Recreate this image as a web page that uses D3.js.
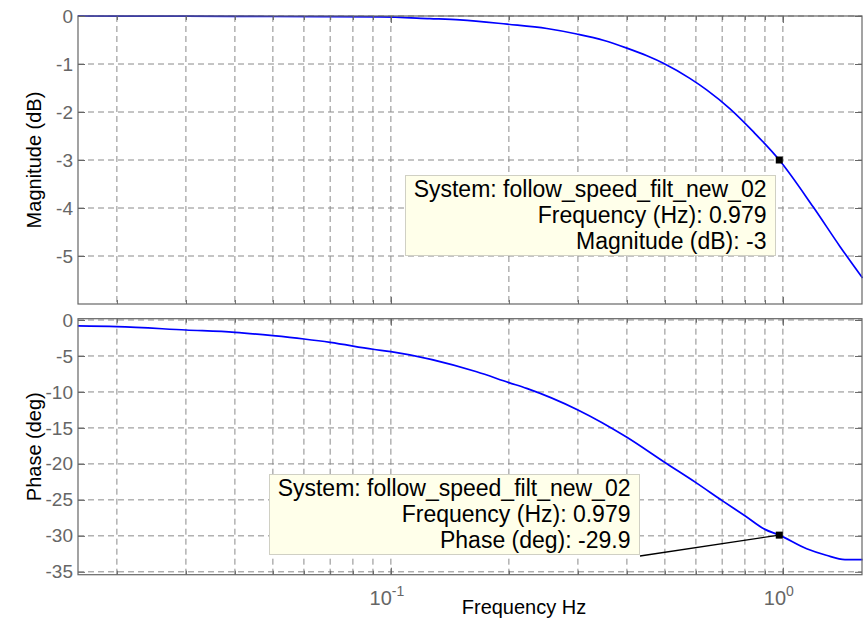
<!doctype html>
<html lang="en">
<head>
<meta charset="utf-8" />
<title>Bode diagram</title>
<script src="https://d3js.org/d3.v7.min.js"></script>
<style>
  body { margin: 0; background: #fff; }
  svg { display: block; font-family: "Liberation Sans", Arial, sans-serif; }
</style>
</head>
<body>
<div id="chart"></div>
<script>
// values
const magFreq = [0.0159, 0.02, 0.03, 0.05, 0.07, 0.0938, 0.1258, 0.15, 0.198, 0.25, 0.298, 0.35, 0.40, 0.45, 0.497, 0.579, 0.639, 0.732, 0.838, 0.979, 1.193, 1.398, 1.597];
const magDb = [0, -0.001, -0.004, -0.01, -0.015, -0.02, -0.055, -0.08, -0.17, -0.26, -0.375, -0.51, -0.67, -0.83, -0.99, -1.30, -1.54, -1.93, -2.40, -3.0, -3.97, -4.8, -5.46];

const phaseFreq = [0.0159, 0.02, 0.03, 0.04, 0.05, 0.06, 0.07, 0.09, 0.1, 0.1655, 0.2, 0.222, 0.3, 0.4, 0.5, 0.6, 0.7, 0.8, 0.9, 0.979, 1.15, 1.29, 1.44, 1.597];
const phaseDeg = [-0.83, -0.93, -1.39, -1.71, -2.18, -2.64, -3.1, -4.07, -4.4, -7.2, -8.7, -9.5, -12.5, -16.3, -19.8, -22.6, -25.1, -27.2, -29.1, -29.9, -31.8, -32.7, -33.3, -33.3];

const magTicks = [0, -1, -2, -3, -4, -5];
const phaseTicks = [0, -5, -10, -15, -20, -25, -30, -35];
const decadeTicks = [0.1, 1];
const decadeExp = ["-1", "0"];

const tipSystem = "follow_speed_filt_new_02";
const tipFreq = 0.979;
const tipMag = -3;
const tipPhase = -29.9;

const W = 863, H = 620;
const left = 78, right = 862;
const top1 = 16, bottom1 = 304;
const top2 = 318.7, bottom2 = 574.7;

const svg = d3.select("#chart").append("svg")
  .attr("width", W).attr("height", H);

// frequency axis, 0.1 .. 10 rad/s shown in Hz
const x = d3.scaleLog()
  .domain([0.1 / (2 * Math.PI), 10 / (2 * Math.PI)])
  .range([left, right]);

// log grid: 2..9 of every decade inside the range
let minor = [];
[0.01, 0.1, 1].forEach(d => {
  for (let k = 1; k <= 9; k++) {
    const v = k * d;
    if (v >= x.domain()[0] && v <= x.domain()[1]) minor.push(v);
  }
});

const yMag = d3.scaleLinear().domain([-6, 0]).range([bottom1, top1]);
const yPh = d3.scaleLinear().domain([-35.4, 0.18]).range([bottom2, top2]);

const gridColor = "#8a8a8a";
const axisColor = "#666";
const tickFont = "19px";
const labelFont = "20px";

function panel(y, ticks, top, bottom) {
  const g = svg.append("g");

  g.append("g").selectAll("line").data(minor).join("line")
    .attr("x1", d => x(d)).attr("x2", d => x(d))
    .attr("y1", top).attr("y2", bottom)
    .attr("stroke", gridColor).attr("stroke-dasharray", "6,4");

  g.append("g").selectAll("line").data(ticks).join("line")
    .attr("x1", left).attr("x2", right)
    .attr("y1", d => y(d)).attr("y2", d => y(d))
    .attr("stroke", gridColor).attr("stroke-dasharray", "6,4");

  return g;
}

function frame(g, y, ticks, top, bottom) {
  const style = sel => {
    sel.select(".domain").remove();
    sel.selectAll(".tick line").attr("stroke", axisColor);
  };
  // y ticks left and right (plain hyphen for the minus sign)
  g.append("g").attr("transform", `translate(${left},0)`)
    .call(d3.axisLeft(y).tickValues(ticks).tickSize(-7).tickPadding(5).tickFormat(d => String(d)))
    .call(style)
    .selectAll("text").attr("fill", axisColor).style("font-size", tickFont)
    .style("font-family", "Liberation Sans, Arial, sans-serif");
  g.append("g").attr("transform", `translate(${right},0)`)
    .call(d3.axisRight(y).tickValues(ticks).tickSize(-7).tickFormat(""))
    .call(style);
  // x ticks bottom and top, major longer than minor
  [[bottom, d3.axisBottom], [top, d3.axisTop]].forEach(([yy, ax]) => {
    g.append("g").attr("transform", `translate(0,${yy})`)
      .call(ax(x).tickValues(minor).tickSize(-4).tickFormat(""))
      .call(style);
    g.append("g").attr("transform", `translate(0,${yy})`)
      .call(ax(x).tickValues(decadeTicks).tickSize(-7).tickFormat(""))
      .call(style);
  });
  g.append("rect")
    .attr("x", left).attr("y", top)
    .attr("width", right - left).attr("height", bottom - top)
    .attr("fill", "none").attr("stroke", axisColor).attr("stroke-width", 1.2);
}

function curve(g, fx, vy, y) {
  const pts = fx.map((f, i) => [f, vy[i]]);
  g.append("path")
    .datum(pts)
    .attr("fill", "none")
    .attr("stroke", "#0000ff")
    .attr("stroke-width", 1.7)
    .attr("d", d3.line().x(d => x(d[0])).y(d => y(d[1])).curve(d3.curveMonotoneX));
}

// magnitude
const g1 = panel(yMag, magTicks, top1, bottom1);
curve(g1, magFreq, magDb, yMag);
frame(g1, yMag, magTicks, top1, bottom1);

// phase
const g2 = panel(yPh, phaseTicks, top2, bottom2);
curve(g2, phaseFreq, phaseDeg, yPh);
frame(g2, yPh, phaseTicks, top2, bottom2);

// decade labels 10^n
const lab = svg.append("g").selectAll("text").data(decadeTicks).join("text")
  .attr("x", d => x(d) - 4)
  .attr("y", 605)
  .attr("text-anchor", "middle")
  .attr("fill", axisColor)
  .style("font-size", "20px");
lab.append("tspan").text("10");
lab.append("tspan").attr("dy", -9).style("font-size", "14px").text((d, i) => decadeExp[i]);

// axis titles
svg.append("text")
  .attr("transform", `translate(41,${(top1 + bottom1) / 2}) rotate(-90)`)
  .attr("text-anchor", "middle").style("font-size", labelFont)
  .text("Magnitude (dB)");
svg.append("text")
  .attr("transform", `translate(41,${(top2 + bottom2) / 2}) rotate(-90)`)
  .attr("text-anchor", "middle").style("font-size", labelFont)
  .text("Phase (deg)");
svg.append("text")
  .attr("x", 524).attr("y", 614)
  .attr("text-anchor", "middle").style("font-size", labelFont)
  .text("Frequency Hz");

// data tips
function dataTip(bx, by, lines, mx, my, lineFrom) {
  const g = svg.append("g");
  if (lineFrom) {
    g.append("line")
      .attr("x1", lineFrom[0]).attr("y1", lineFrom[1])
      .attr("x2", mx).attr("y2", my)
      .attr("stroke", "#000").attr("stroke-width", 1.3);
  }
  g.append("rect")
    .attr("x", bx).attr("y", by).attr("width", 370).attr("height", 80)
    .attr("fill", "#ffffea").attr("stroke", "#d0d0c4");
  g.selectAll("text").data(lines).join("text")
    .attr("x", bx + 361)
    .attr("y", (d, i) => by + 21 + i * 26)
    .attr("text-anchor", "end")
    .style("font-size", "23px")
    .attr("fill", "#000")
    .text(d => d);
  g.append("rect")
    .attr("x", mx - 3.5).attr("y", my - 3.5)
    .attr("width", 7).attr("height", 7)
    .attr("fill", "#000");
}

dataTip(405.5, 175.5, [
  "System: " + tipSystem,
  "Frequency (Hz): " + tipFreq,
  "Magnitude (dB): " + tipMag
], x(tipFreq), yMag(tipMag), null);

dataTip(269.5, 474.5, [
  "System: " + tipSystem,
  "Frequency (Hz): " + tipFreq,
  "Phase (deg): " + tipPhase
], x(tipFreq), yPh(tipPhase), [640, 556]);
</script>
</body>
</html>
